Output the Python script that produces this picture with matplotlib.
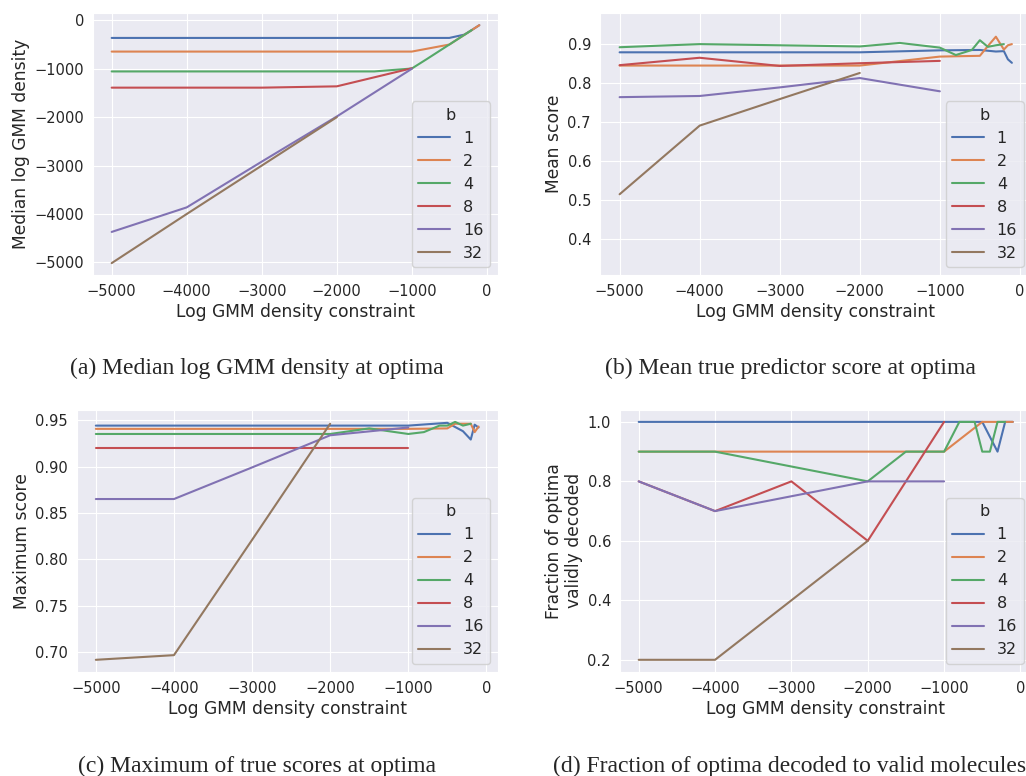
import matplotlib
matplotlib.use('Agg')
import matplotlib.pyplot as plt
import seaborn as sns

# b values and the constraint grid each run used
b_values = [1, 2, 4, 8, 16, 32]
x_b1 = [-5000, -4000, -3000, -2000, -1000, -500, -300, -200, -150, -100]
x_b2 = [-5000, -4000, -3000, -2000, -1000, -500, -400, -300, -200, -150, -100]
x_b4 = [-5000, -4000, -3000, -2000, -1500, -1000, -800, -600, -500, -400, -300, -200]
x_b8 = [-5000, -4000, -3000, -2000, -1000]
x_b16 = [-5000, -4000, -3000, -2000, -1000]
x_b32 = [-5000, -4000, -3000, -2000]
x_lists = [x_b1, x_b2, x_b4, x_b8, x_b16, x_b32]

# (a) median log GMM density
median_density = [
    [-363, -363, -363, -363, -363, -363, -295, -200, -150, -100],
    [-645, -645, -645, -645, -645, -500, -400, -300, -200, -150, -100],
    [-1055, -1055, -1055, -1055, -1055, -995, -800, -600, -500, -400, -300, -200],
    [-1390, -1390, -1390, -1363, -990],
    [-4370, -3863, -2918, -1986, -1000],
    [-5014, -4000, -3000, -2000],
]

# (b) mean true predictor score
mean_score = [
    [0.879, 0.879, 0.879, 0.879, 0.884, 0.885, 0.881, 0.882, 0.861, 0.852],
    [0.845, 0.845, 0.845, 0.845, 0.868, 0.870, 0.895, 0.919, 0.886, 0.897, 0.900],
    [0.892, 0.900, 0.897, 0.894, 0.903, 0.891, 0.872, 0.885, 0.910, 0.893, 0.897, 0.900],
    [0.846, 0.865, 0.844, 0.851, 0.857],
    [0.764, 0.767, 0.789, 0.813, 0.779],
    [0.515, 0.691, 0.759, 0.826],
]

# (c) maximum true score
max_score = [
    [0.944, 0.944, 0.944, 0.944, 0.944, 0.947, 0.938, 0.929, 0.945, 0.942],
    [0.9405, 0.9405, 0.9405, 0.9405, 0.9405, 0.941, 0.946, 0.946, 0.946, 0.937, 0.943],
    [0.935, 0.935, 0.935, 0.935, 0.941, 0.935, 0.937, 0.944, 0.944, 0.948, 0.944, 0.946],
    [0.920, 0.920, 0.920, 0.920, 0.920],
    [0.865, 0.865, 0.899, 0.9336, 0.942],
    [0.692, 0.697, 0.821, 0.946],
]

# (d) fraction validly decoded
frac_valid = [
    [1.0, 1.0, 1.0, 1.0, 1.0, 1.0, 0.9, 1.0, 1.0, 1.0],
    [0.9, 0.9, 0.9, 0.9, 0.9, 1.0, 1.0, 1.0, 1.0, 1.0, 1.0],
    [0.9, 0.9, 0.85, 0.8, 0.9, 0.9, 1.0, 1.0, 0.9, 0.9, 1.0, 1.0],
    [0.8, 0.7, 0.8, 0.6, 1.0],
    [0.8, 0.7, 0.75, 0.8, 0.8],
    [0.2, 0.2, 0.4, 0.6],
]

sns.set_style('darkgrid')
plt.rcParams['font.family'] = ['DejaVu Sans']
colors = sns.color_palette('deep')

fig = plt.figure(figsize=(10.26, 7.76), dpi=100)
W, H = 1026, 776


def make_axes(left, top, right, bottom):
    return fig.add_axes([left / W, 1 - bottom / H, (right - left) / W, (bottom - top) / H])


ax_a = make_axes(93.3, 13.3, 497.7, 275)
ax_b = make_axes(600, 13.3, 1031.5, 275)
ax_c = make_axes(76.7, 410, 497.7, 671.7)
ax_d = make_axes(620, 410, 1031.5, 671.7)

panels = [
    (ax_a, median_density, 'Median log GMM density'),
    (ax_b, mean_score, 'Mean score'),
    (ax_c, max_score, 'Maximum score'),
    (ax_d, frac_valid, 'Fraction of optima\nvalidly decoded'),
]

for ax, data, ylab in panels:
    for i, b in enumerate(b_values):
        ax.plot(x_lists[i], data[i], color=colors[i], lw=1.5, label=str(b))
    ax.set_xticks([-5000, -4000, -3000, -2000, -1000, 0])
    ax.tick_params(labelsize=10.5, pad=3)
    ax.set_xlabel('Log GMM density constraint', fontsize=12.3, labelpad=3)
    ax.set_ylabel(ylab, fontsize=12.3, labelpad=3)
    ax.legend(title='b', loc='lower right', fontsize=11.5, title_fontsize=11.5)

ax_a.set_yticks([0, -1000, -2000, -3000, -4000, -5000])
ax_b.set_ylim(0.308, 0.979)
ax_b.set_yticks([0.4, 0.5, 0.6, 0.7, 0.8, 0.9])
ax_c.set_yticks([0.70, 0.75, 0.80, 0.85, 0.90, 0.95])
ax_c.yaxis.set_major_formatter(matplotlib.ticker.FormatStrFormatter('%.2f'))
ax_d.set_yticks([0.2, 0.4, 0.6, 0.8, 1.0])

cap = dict(ha='center', va='center', fontsize=17, family='Liberation Serif')
fig.text(257 / W, 1 - 368 / H, '(a) Median log GMM density at optima', **cap)
fig.text(790 / W, 1 - 368 / H, '(b) Mean true predictor score at optima', **cap)
fig.text(257 / W, 1 - 766 / H, '(c) Maximum of true scores at optima', **cap)
fig.text(790 / W, 1 - 766 / H, '(d) Fraction of optima decoded to valid molecules', **cap)

fig.savefig('out.png', dpi=100)
